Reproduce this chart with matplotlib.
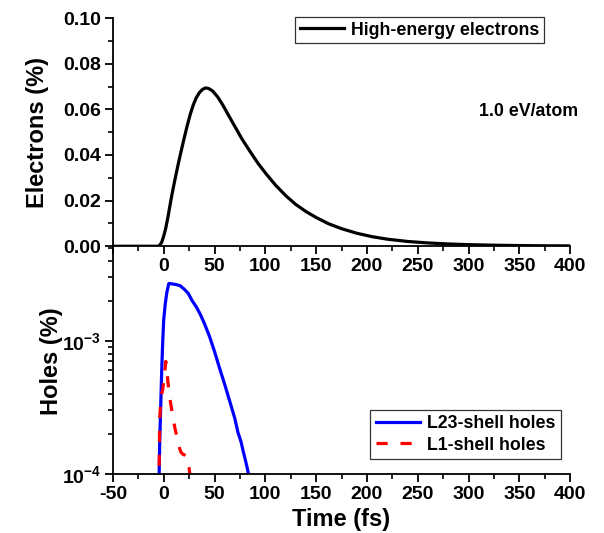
import math
import matplotlib
matplotlib.use('Agg')
import matplotlib.pyplot as plt
from matplotlib.ticker import MultipleLocator, FixedLocator, FuncFormatter, LogLocator, NullFormatter

plt.rcParams['font.family'] = ['Liberation Sans', 'DejaVu Sans']
plt.rcParams['font.weight'] = 'bold'
plt.rcParams['mathtext.fontset'] = 'custom'
plt.rcParams['mathtext.bf'] = 'Liberation Sans:bold'
plt.rcParams['mathtext.rm'] = 'Liberation Sans:bold'

# high-energy electrons (%)
t_el = [-50, -10, -6, -4, -2, 0, 2, 4, 6, 8, 11, 14, 17, 20, 23, 26, 29, 32, 35, 38, 41, 44,
        48, 53, 58, 63, 70, 77, 85, 93, 101, 110, 120, 130, 140, 150, 162, 175, 190, 205,
        220, 240, 260, 280, 300, 325, 350, 375, 400]
electrons = [0, 0, 0, 0.0004, 0.0018, 0.0045, 0.008, 0.0125, 0.0175, 0.0225, 0.0292,
             0.0355, 0.0415, 0.0472, 0.0527, 0.0577, 0.0619, 0.0651, 0.0673, 0.0687,
             0.0694, 0.0692, 0.0681, 0.0655, 0.062, 0.058, 0.0525, 0.047, 0.0415, 0.0362,
             0.0316, 0.0268, 0.0222, 0.0183, 0.0152, 0.0126, 0.0099, 0.0077, 0.0057,
             0.0042, 0.0031, 0.0021, 0.00145, 0.001, 0.0007, 0.00045, 0.0003, 0.0002,
             0.00015]

# L23-shell holes (%)
t_l23 = [-5, -4, -3, -2, -1, 0, 1.5, 3, 5, 8, 12, 16, 20, 24, 28, 32, 36, 40, 45, 50, 55,
         60, 65, 70, 73, 76, 78, 80, 82, 84, 86]
l23 = [6e-5, 1.7e-4, 3.2e-4, 6e-4, 1.0e-3, 1.45e-3, 1.9e-3, 2.3e-3, 2.7e-3, 2.68e-3,
       2.65e-3, 2.6e-3, 2.45e-3, 2.28e-3, 2.0e-3, 1.8e-3, 1.58e-3, 1.35e-3, 1.08e-3,
       8.3e-4, 6.2e-4, 4.7e-4, 3.5e-4, 2.6e-4, 2.05e-4, 1.75e-4, 1.5e-4, 1.3e-4, 1.12e-4,
       9.5e-5, 7.5e-5]

# L1-shell holes (%)
t_l1 = [-5, -4, -3, -2, -1, 0, 1, 2, 3, 4, 5, 7, 9, 11, 13, 15, 17, 19, 21, 23, 25, 26, 27]
l1 = [5e-5, 2.6e-4, 3.4e-4, 4.0e-4, 4.3e-4, 5.0e-4, 5.8e-4, 7.0e-4, 6.2e-4, 5.0e-4,
      4.2e-4, 3.3e-4, 2.7e-4, 2.2e-4, 1.9e-4, 1.6e-4, 1.45e-4, 1.4e-4, 1.38e-4, 1.35e-4,
      1.1e-4, 9.5e-5, 8e-5]

xticks = [-50, 0, 50, 100, 150, 200, 250, 300, 350, 400]

fig = plt.figure(figsize=(6.04, 5.33), dpi=100)
ax1 = fig.add_axes([0.187, 0.538, 0.757, 0.428])
ax2 = fig.add_axes([0.187, 0.111, 0.757, 0.424])
ax2.set_facecolor('none')

for ax in (ax1, ax2):
    ax.spines['top'].set_visible(False)
    ax.spines['right'].set_visible(False)
    ax.spines['left'].set_linewidth(1.3)
    ax.spines['bottom'].set_linewidth(1.3)
    ax.set_xlim(-50, 400)
    ax.xaxis.set_major_locator(FixedLocator(xticks))
    ax.xaxis.set_minor_locator(MultipleLocator(25))
    ax.tick_params(which='major', direction='out', length=6, width=1.3, labelsize=14, pad=2.5)
    ax.tick_params(which='minor', direction='out', length=3.5, width=1.2)

# top panel
ax1.plot(t_el, electrons, color='black', lw=2.3, label='High-energy electrons')
ax1.set_ylim(0, 0.1)
ax1.yaxis.set_major_locator(MultipleLocator(0.02))
ax1.yaxis.set_minor_locator(MultipleLocator(0.01))
ax1.yaxis.set_major_formatter(FuncFormatter(lambda v, p: '%.2f' % v))
ax1.xaxis.set_major_formatter(FuncFormatter(lambda v, p: '' if v < 0 else '%d' % v))
ax1.set_ylabel('Electrons (%)', fontsize=17, fontweight='bold')
ax1.yaxis.set_label_coords(-0.14, 0.5)
ax1.text(0.91, 0.59, '1.0 eV/atom', transform=ax1.transAxes, ha='center', va='center',
         fontsize=12.8, fontweight='bold')
leg1 = ax1.legend(loc='upper right', bbox_to_anchor=(0.947, 1.012), fancybox=False,
                  edgecolor='black', fontsize=12.8, handlelength=2.5, borderpad=0.25,
                  handletextpad=0.4, borderaxespad=0.1)
leg1.get_frame().set_linewidth(0.9)

# bottom panel
ax2.set_yscale('log')
ax2.plot(t_l23, l23, color='blue', lw=2.3, label='L23-shell holes')
ax2.plot(t_l1, l1, color='red', lw=2.3, ls=(0, (3.5, 4)), label='L1-shell holes')
ax2.set_ylim(1e-4, 5e-3)
ax2.yaxis.set_major_locator(LogLocator(base=10, numticks=10))
ax2.yaxis.set_minor_locator(LogLocator(base=10, subs=range(2, 10), numticks=20))
ax2.yaxis.set_minor_formatter(NullFormatter())
ax2.yaxis.set_major_formatter(FuncFormatter(lambda v, p: r'$\mathbf{10^{%d}}$' % round(math.log10(v))))
ax2.xaxis.set_major_formatter(FuncFormatter(lambda v, p: '%d' % v))
ax2.set_ylabel('Holes (%)', fontsize=17, fontweight='bold')
ax2.yaxis.set_label_coords(-0.11, 0.5)
ax2.set_xlabel('Time (fs)', fontsize=17, fontweight='bold', labelpad=4)
leg2 = ax2.legend(loc='lower right', bbox_to_anchor=(0.98, 0.066), fancybox=False,
                  edgecolor='black', fontsize=12.8, handlelength=2.5, borderpad=0.3,
                  handletextpad=0.4, labelspacing=0.25, borderaxespad=0)
leg2.get_frame().set_linewidth(0.9)
for t in leg1.get_texts() + leg2.get_texts():
    t.set_fontweight('bold')

fig.savefig('out.png', dpi=100)
